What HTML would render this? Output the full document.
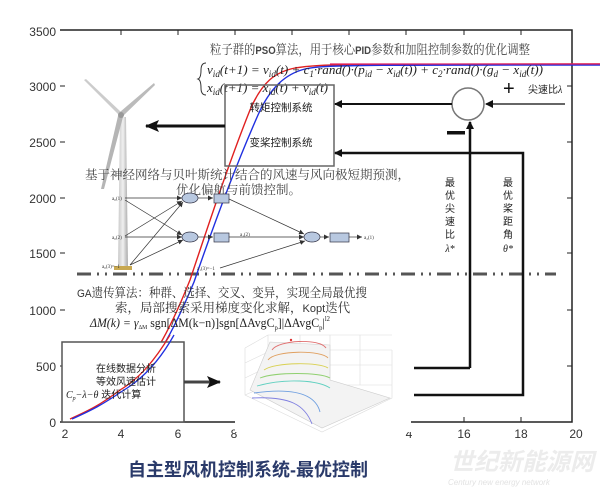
<!DOCTYPE html>
<html><head><meta charset="utf-8"><style>
html,body{margin:0;padding:0;background:#fff;width:600px;height:501px;overflow:hidden}
svg{display:block}
.t{font-family:"Liberation Sans","Noto Sans CJK SC",sans-serif}
.s{font-family:"Liberation Serif","Noto Serif CJK SC",serif}
</style></head><body>
<svg width="600" height="501" viewBox="0 0 600 501" xmlns="http://www.w3.org/2000/svg">
<defs>
<marker id="ah" markerWidth="8" markerHeight="8" refX="7" refY="4" orient="auto" markerUnits="userSpaceOnUse"><path d="M0,0 L8,4 L0,8 Z" fill="#111"/></marker>
<marker id="ah2" markerWidth="14" markerHeight="12" refX="13" refY="6" orient="auto" markerUnits="userSpaceOnUse"><path d="M0,0 L14,6 L0,12 L3,6 Z" fill="#111"/></marker>
<marker id="as" markerWidth="5" markerHeight="5" refX="5" refY="2.5" orient="auto" markerUnits="userSpaceOnUse"><path d="M0,0 L5,2.5 L0,5 Z" fill="#333"/></marker>
<linearGradient id="tw" x1="0" x2="1"><stop offset="0" stop-color="#c8c8c8"/><stop offset=".5" stop-color="#f0f0f0"/><stop offset="1" stop-color="#a8a8a8"/></linearGradient>
</defs>
<g stroke="#222" stroke-width="1.5" fill="none">
<path d="M60,30 H572 V422 H410 M235,422 H60 Z"/>
</g>
<g stroke="#222" stroke-width="1">
<path d="M60,86h5M60,142h5M60,198h5M60,253h5M60,310h5M60,366h5"/>
<path d="M572,86h-5M572,142h-5M572,198h-5M572,253h-5M572,310h-5M572,366h-5"/>
<path d="M121,30v5M178,30v5M235,30v5M292,30v5M349,30v5M406,30v5M464,30v5M521,30v5"/>
<path d="M121,422v-5M178,422v-5M464,422v-5M521,422v-5"/>
</g>
<g class="t" font-size="12" fill="#333" text-anchor="end">
<text x="56" y="36">3500</text><text x="56" y="91">3000</text><text x="56" y="147">2500</text><text x="56" y="203">2000</text><text x="56" y="258">1500</text><text x="56" y="315">1000</text><text x="56" y="371">500</text><text x="56" y="427">0</text>
</g>
<g class="t" font-size="12" fill="#333" text-anchor="middle">
<text x="65" y="438">2</text><text x="121" y="438">4</text><text x="178" y="438">6</text><text x="234" y="438">8</text><text x="409" y="438">4</text><text x="464" y="438">16</text><text x="521" y="438">18</text><text x="576" y="438">20</text>
</g>
<path d="M77,274 H556" stroke="#555" stroke-width="3" stroke-dasharray="14,6,2,6,2,6"/>
<g>
<path d="M120,117 L126,117 L128,268 L118,268 Z" fill="url(#tw)"/>
<rect x="114" y="266" width="18" height="4" fill="#c8a850"/>
<path d="M118,114 L84,80 L86,79 L121,112 Z" fill="#ccc"/>
<path d="M120,112 L154,83 L155,85 L123,116 Z" fill="#bbb"/>
<path d="M118,116 L101,189 L104,189 L123,117 Z" fill="#b5b5b5"/>
<circle cx="121" cy="115" r="3" fill="#999"/>
</g>
<path d="M70,419 C90,410 100,405 120,390 C150,370 170,330 190,280 C210,220 230,160 250,110 C262,82 275,72 295,68 C320,64 340,64 600,64" stroke="#e02020" stroke-width="1.4" fill="none"/>
<path d="M72,419 C92,410 102,405 124,390 C154,370 174,330 194,282 C214,224 236,165 258,115 C270,88 285,74 305,69 C325,65 340,65 600,65" stroke="#2030e0" stroke-width="1.4" fill="none"/>
<path d="M330,64 H600" stroke="#e02060" stroke-width="1.2"/>
<text class="s" x="210" y="54" font-size="13" fill="#444" textLength="320" lengthAdjust="spacingAndGlyphs">粒子群的<tspan class="t" font-weight="bold" font-size="11">PSO</tspan>算法，用于核心<tspan class="t" font-weight="bold" font-size="11">PID</tspan>参数和加阻控制参数的优化调整</text>
<path d="M206,63 Q201,63 201,70 Q201,78 198,79 Q201,80 201,88 Q201,95 206,95" stroke="#333" stroke-width="1" fill="none"/>
<text class="s" x="207" y="74" font-size="13" font-style="italic" fill="#222" textLength="336" lengthAdjust="spacingAndGlyphs">v<tspan font-size="9" dy="3">id</tspan><tspan dy="-3">(t+1) = v</tspan><tspan font-size="9" dy="3">id</tspan><tspan dy="-3">(t) + c</tspan><tspan font-size="9" dy="3">1</tspan><tspan dy="-3">·rand()·(p</tspan><tspan font-size="9" dy="3">id</tspan><tspan dy="-3"> − x</tspan><tspan font-size="9" dy="3">id</tspan><tspan dy="-3">(t)) + c</tspan><tspan font-size="9" dy="3">2</tspan><tspan dy="-3">·rand()·(g</tspan><tspan font-size="9" dy="3">d</tspan><tspan dy="-3"> − x</tspan><tspan font-size="9" dy="3">id</tspan><tspan dy="-3">(t))</tspan></text>
<text class="s" x="207" y="92" font-size="13" font-style="italic" fill="#222">x<tspan font-size="9" dy="3">id</tspan><tspan dy="-3">(t+1) = x</tspan><tspan font-size="9" dy="3">id</tspan><tspan dy="-3">(t) + v</tspan><tspan font-size="9" dy="3">id</tspan><tspan dy="-3">(t)</tspan></text>
<rect x="225" y="85" width="109" height="81" fill="none" stroke="#666" stroke-width="1.5"/>
<g class="t" font-size="10.5" fill="#222" text-anchor="middle"><text x="281" y="111">转矩控制系统</text><text x="281" y="146">变桨控制系统</text></g>
<path d="M225,126 H146" stroke="#111" stroke-width="3" marker-end="url(#ah2)"/>
<circle cx="468" cy="104" r="16" fill="#fff" stroke="#777" stroke-width="1.5"/>
<path d="M565,104 H486" stroke="#333" stroke-width="1.5" marker-end="url(#ah)"/>
<path d="M452,104 H335" stroke="#111" stroke-width="2" marker-end="url(#ah)"/>
<path d="M470,368 V122" stroke="#111" stroke-width="2.5" marker-end="url(#ah)"/>
<path d="M414,368 H470" stroke="#111" stroke-width="2.5"/>
<path d="M414,395 H523 V153 H335" stroke="#111" stroke-width="2.5" fill="none" marker-end="url(#ah)"/>
<text class="t" x="503" y="95" font-size="20" fill="#111">+</text>
<rect x="447" y="131" width="18" height="3.5" fill="#111"/>
<text class="t" x="528" y="93" font-size="10" fill="#222">尖速比<tspan class="s" font-style="italic">λ</tspan></text>
<g class="t" font-size="10" fill="#222" text-anchor="middle">
<text x="450" y="186">最</text><text x="450" y="199">优</text><text x="450" y="212">尖</text><text x="450" y="225">速</text><text x="450" y="238">比</text><text x="450" y="252" class="s" font-style="italic">λ*</text>
<text x="508" y="186">最</text><text x="508" y="199">优</text><text x="508" y="212">桨</text><text x="508" y="225">距</text><text x="508" y="238">角</text><text x="508" y="252" class="s" font-style="italic">θ*</text>
</g>
<text class="s" x="85" y="179" font-size="12.5" fill="#444">基于神经网络与贝叶斯统计结合的风速与风向极短期预测，</text>
<text class="s" x="176" y="194" font-size="12.5" fill="#444">优化偏航与前馈控制。</text>
<g stroke="#333" stroke-width="0.7" fill="none">
<path d="M125,198 H182" marker-end="url(#as)"/>
<path d="M125,200 L182,235" marker-end="url(#as)"/>
<path d="M125,236 L182,201" marker-end="url(#as)"/>
<path d="M125,237 H182" marker-end="url(#as)"/>
<path d="M130,265 L183,202" marker-end="url(#as)"/>
<path d="M130,265 L183,240" marker-end="url(#as)"/>
<path d="M198,198 H213" marker-end="url(#as)"/><path d="M198,237 H213" marker-end="url(#as)"/>
<path d="M229,199 L304,234" marker-end="url(#as)"/>
<path d="M229,237 H304" marker-end="url(#as)"/>
<path d="M220,268 L305,241" marker-end="url(#as)"/>
<path d="M320,237 H329" marker-end="url(#as)"/>
<path d="M349,237 H362" marker-end="url(#as)"/>
</g>
<g fill="#b8c8e0" stroke="#334" stroke-width="0.7">
<ellipse cx="190" cy="198" rx="8" ry="5"/><ellipse cx="190" cy="237" rx="8" ry="5"/><ellipse cx="312" cy="237" rx="8" ry="5"/>
<rect x="214" y="194" width="15" height="9"/><rect x="214" y="233" width="15" height="9"/><rect x="330" y="233" width="19" height="9"/>
</g>
<g class="s" font-size="5" fill="#333"><text x="112" y="200">a₀(1)</text><text x="112" y="239">a₀(2)</text><text x="102" y="268">a₀(3)=−1</text><text x="197" y="270">a₁(3)=−1</text><text x="364" y="239">a₂(1)</text><text x="240" y="236">a₁(2)</text></g>
<text class="s" x="77" y="297" font-size="12.5" fill="#333" textLength="290" lengthAdjust="spacingAndGlyphs"><tspan class="t" font-size="11">GA</tspan>遗传算法：种群、选择、交叉、变异，实现全局最优搜</text>
<text class="s" x="115" y="312" font-size="12.5" fill="#333">索，局部搜索采用梯度变化求解，<tspan class="t" font-size="11">Kopt</tspan>迭代</text>
<text class="s" x="90" y="327" font-size="12.5" fill="#222" textLength="240" lengthAdjust="spacingAndGlyphs"><tspan font-style="italic">ΔM(k) = γ</tspan><tspan font-size="6" dy="2">ΔM</tspan><tspan dy="-2"> sgn[ΔM(k−n)]sgn[ΔAvgC</tspan><tspan font-size="7" dy="3">p</tspan><tspan dy="-3">]|ΔAvgC</tspan><tspan font-size="7" dy="3">p</tspan><tspan dy="-3">|</tspan><tspan font-size="7" dy="-6">l2</tspan></text>
<rect x="62" y="342" width="122" height="80" fill="#fff" stroke="#555" stroke-width="1.5"/>
<path d="M70,419 C90,410 100,405 120,390 C140,378 155,360 170,335" stroke="#e02020" stroke-width="1.3" fill="none"/>
<path d="M72,419 C92,410 102,405 124,390 C144,378 160,360 174,335" stroke="#2030e0" stroke-width="1.3" fill="none"/>
<g class="t" font-size="10" fill="#222" text-anchor="middle"><text x="126" y="372">在线数据分析</text><text x="126" y="385">等效风速估计</text></g>
<text x="66" y="398" font-size="10" fill="#222" class="t"><tspan class="s" font-style="italic">C<tspan font-size="6" dy="2">p</tspan><tspan dy="-2">−λ−θ</tspan></tspan> 迭代计算</text>
<path d="M184,382 H220" stroke="#444" stroke-width="3" marker-end="url(#ah2)"/>
<rect x="235" y="332" width="176" height="100" fill="#fff"/>
<g stroke="#ddd" stroke-width="0.6" fill="none">
<path d="M245,348 L245,395 L322,432 L392,398 L392,350 M245,348 L268,335 M268,335 L392,335 M268,335 L268,385 M245,395 L268,385 L392,385"/>
<path d="M300,335V385 M330,335V385 M360,335V385 M268,350H392 M268,365H392 M245,363L268,352 M245,378L268,367"/>
<path d="M270,342 L250,390 L322,428 L390,398 L330,380 L330,345 Z" fill="#f3f3f3" stroke="#ccc"/>
</g>
<g fill="none" stroke-width="0.9">
<path d="M272,350 C278,340 320,338 326,348" stroke="#e07070"/>
<path d="M268,360 C275,350 322,350 328,358" stroke="#e0a060"/>
<path d="M264,370 C275,362 320,362 328,368" stroke="#d8d050"/>
<path d="M260,378 C275,372 320,372 330,378" stroke="#90d070"/>
<path d="M257,386 C285,378 318,380 330,388" stroke="#60d0c0"/>
<path d="M254,393 C290,388 315,392 320,412" stroke="#70a0e0"/>
<path d="M252,398 C290,396 305,405 312,424" stroke="#8080e0"/>
<circle cx="291" cy="340" r="1.2" fill="#d33" stroke="none"/>
</g>
<text class="t" x="248" y="476" font-size="18" font-weight="bold" fill="#2a3a6a" text-anchor="middle">自主型风机控制系统-最优控制</text>
<text class="t" x="450" y="470" font-size="24" font-weight="bold" fill="#ececec" font-style="italic">世纪新能源网</text>
<text class="t" x="448" y="485" font-size="8" fill="#e2e2e2" font-style="italic">Century new energy network</text>
</svg>
</body></html>
